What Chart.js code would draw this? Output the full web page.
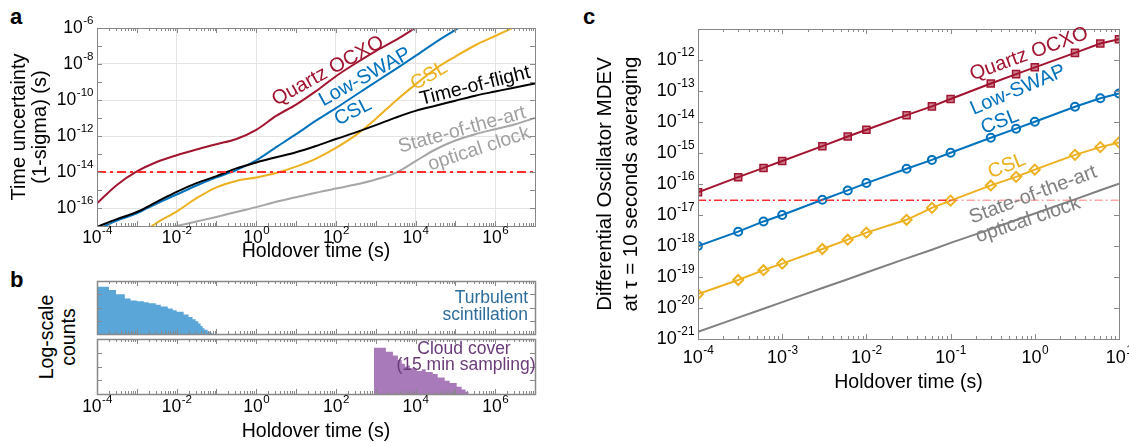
<!DOCTYPE html>
<html>
<head>
<meta charset="utf-8">
<script src="https://cdn.jsdelivr.net/npm/chart.js@4.4.1/dist/chart.umd.min.js"></script>
<style>
  body { margin: 0; background: #fff; width: 1129px; height: 443px; position: relative; overflow: hidden;
         font-family: "Liberation Sans", Arial, sans-serif; }
  canvas { position: absolute; }
  .panel { position: absolute; font-weight: bold; font-size: 22px; line-height: 22px; }
  .ylab { position: absolute; width: 170px; font-size: 19.5px; line-height: 22px; text-align: center; transform: rotate(-90deg); }
</style>
</head>
<body>
<div class="panel" style="left:10px;top:6px">a</div>
<div class="panel" style="left:10px;top:269px">b</div>
<div class="panel" style="left:583px;top:6px">c</div>
<div class="ylab" style="left:-28px;top:315px">Log-scale<br>counts</div>

<canvas id="pa" width="560" height="265" style="left:0;top:0"></canvas>
<canvas id="pbt" width="560" height="70" style="left:0;top:270px"></canvas>
<canvas id="pbb" width="560" height="113" style="left:0;top:330px"></canvas>
<canvas id="pc" width="559" height="443" style="left:570px;top:0"></canvas>

<script>
// ---- panel a : time uncertainty vs holdover time (half-decade grid) ----
var aHoldover = [1e-4, 3.16e-4, 1e-3, 3.16e-3, 1e-2, 3.16e-2, 0.1, 0.316, 1, 3.16, 10, 31.6, 100, 316,
                 1e3, 3.16e3, 1e4, 3.16e4, 1e5, 3.16e5, 1e6, 3.16e6, 1e7];
var aQuartz = [1.82e-16, 1.9e-15, 1.07e-14, 3.6e-14, 8.5e-14, 1.78e-13, 3.5e-13, 6.8e-13, 2.2e-12, 1.3e-11,
               5.6e-11, 3.1e-10, 2.1e-9, 1.1e-8, 5.2e-8, 2.1e-7, 1e-6, 4e-6, null, null, null, null, null];
var aLowSwap = [6.3e-18, 2e-17, 5e-17, 1.78e-16, 5.6e-16, 1.78e-15, 5e-15, 1.26e-14, 4.5e-14, 2.4e-13,
                1.26e-12, 7.1e-12, 3.5e-11, 1.9e-10, 1e-9, 5.2e-9, 2.8e-8, 1.58e-7, 7.9e-7, 4e-6, null, null, null];
var aTimeOfFlight = [9e-18, 2.4e-17, 6e-17, 2.2e-16, 7.9e-16, 2.4e-15, 5.9e-15, 1.58e-14, 3.4e-14, 6.6e-14,
                     1.26e-13, 2.8e-13, 6.8e-13, 1.58e-12, 4e-12, 1.05e-11, 2.5e-11, 4.8e-11, 9.1e-11, 1.74e-10,
                     2.95e-10, 5e-10, 8.3e-10];
var aCsl = [null, null, 2.5e-18, 1.5e-17, 6.3e-17, 3.5e-16, 1.41e-15, 3.2e-15, 5e-15, 8.9e-15, 2e-14, 5.6e-14,
            2.2e-13, 1.12e-12, 8.9e-12, 8.9e-11, 7.4e-10, 5.4e-9, 2.6e-8, 1.1e-7, 3.6e-7, 1.17e-6, null];
var aOptical = [null, null, null, 5.6e-18, 1e-17, 1.78e-17, 3.2e-17, 6e-17, 1.12e-16, 2.2e-16, 4e-16, 7.1e-16,
                1.2e-15, 2e-15, 3.8e-15, 8.9e-15, 4e-14, 1.78e-13, 5.6e-13, 1.26e-12, 2.4e-12, 4.5e-12, 1e-11];
var aThreshold = 1e-14;
var aXLabels = [-4, -2, 0, 2, 4, 6];
var aYLabels = [-6, -8, -10, -12, -14, -16];

// ---- panel b : histograms (bin edges in s, log-scale counts) ----
var turbEdges = [1e-4, 2e-4, 3e-4, 5e-4, 7e-4, 1e-3, 1.5e-3, 2e-3, 3e-3, 4e-3, 6e-3, 8e-3, 1e-2, 1.5e-2,
                 2e-2, 2.5e-2, 3e-2, 3.5e-2, 4e-2, 4.5e-2, 5e-2, 6e-2, 7e-2, 8e-2];
var turbCounts = [3630, 2090, 1000, 479, 331, 302, 251, 209, 158, 120, 83, 63, 48, 30, 19, 13, 9.1, 6.3, 4,
                  2.75, 2.1, 1.45, 1.2];
var cloudEdges = [900, 1800, 2700, 3600, 4500, 5400, 6300, 7200, 9000, 10800, 14400, 18000, 27000, 36000,
                  54000, 72000, 108000, 144000, 180000, 216000];
var cloudCounts = [2290, 1200, 631, 302, 158, 100, 120, 76, 63, 48, 63, 40, 28, 16, 9.1, 6.3, 3.3, 2.1, 1.45];

// ---- panel c : differential oscillator MDEV ----
var cTau = [1e-4, 3e-4, 6e-4, 1e-3, 3e-3, 6e-3, 1e-2, 3e-2, 6e-2, 0.1, 0.3, 0.6, 1, 3, 6, 10];
var cQuartz = [5.4e-17, 1.66e-16, 3.3e-16, 5.5e-16, 1.66e-15, 3.4e-15, 5.6e-15, 1.66e-14, 3.2e-14, 5.5e-14,
               1.74e-13, 3.5e-13, 5.8e-13, 1.7e-12, 3.4e-12, 4.7e-12];
var cLowSwap = [1e-18, 2.9e-18, 6.2e-18, 1e-17, 3.1e-17, 6.2e-17, 1.07e-16, 3.1e-16, 6e-16, 1.02e-15,
                3.1e-15, 6.1e-15, 1.02e-14, 3.1e-14, 5.8e-14, 8.3e-14];
var cCsl = [2.8e-20, 8e-20, 1.66e-19, 2.7e-19, 8e-19, 1.6e-18, 2.7e-18, 7e-18, 1.7e-17, 2.9e-17, 9e-17,
            1.7e-16, 2.9e-16, 8.7e-16, 1.55e-15, 2.2e-15];
var cOptical = [1.7e-21, 4.9e-21, 9.5e-21, 1.55e-20, 4.4e-20, 8.5e-20, 1.4e-19, 4e-19, 7.6e-19, 1.26e-18,
                3.5e-18, 6.9e-18, 1.12e-17, 3.2e-17, 6.3e-17, 1.02e-16];
var cThreshold = 3e-17;
var cXLabels = [-4, -3, -2, -1, 0, 1];
var cYLabels = [-12, -13, -14, -15, -16, -17, -18, -19, -20, -21];

var RED = '#a2142f', BLUE = '#0072bd', YELLOW = '#edb120';
var FONT = '"Liberation Sans", Arial, sans-serif';

Chart.defaults.font.family = FONT;
Chart.defaults.color = '#000';
Chart.defaults.plugins.legend.display = false;
Chart.defaults.plugins.tooltip.enabled = false;

// box, inward tick marks and 10^n labels
var framePlugin = {
    id: 'frame',
    afterDatasetsDraw: function (chart, args, o) {
        var ctx = chart.ctx, a = chart.chartArea, xs = chart.scales.x, ys = chart.scales.y;
        function marks(sc, minor) {
            var out = [];
            var e0 = Math.floor(Math.log10(sc.min)), e1 = Math.ceil(Math.log10(sc.max));
            for (var e = e0; e <= e1; e++) {
                for (var m = 1; m <= 9; m++) {
                    if (m > 1 && !minor) continue;
                    var v = m * Math.pow(10, e);
                    if (v < sc.min * 0.999 || v > sc.max * 1.001) continue;
                    out.push({ p: sc.getPixelForValue(v), major: m === 1 });
                }
            }
            return out;
        }
        ctx.save();
        ctx.strokeStyle = o.color;
        ctx.lineWidth = 1;
        ctx.beginPath();
        marks(xs, o.xMinor).forEach(function (t) {
            var L = t.major ? 5 : 3, px = Math.round(t.p) + 0.5;
            ctx.moveTo(px, a.bottom); ctx.lineTo(px, a.bottom - L);
            ctx.moveTo(px, a.top); ctx.lineTo(px, a.top + L);
        });
        marks(ys, o.yMinor).forEach(function (t) {
            var L = t.major ? 5 : 3, py = Math.round(t.p) + 0.5;
            ctx.moveTo(a.left, py); ctx.lineTo(a.left + L, py);
            ctx.moveTo(a.right, py); ctx.lineTo(a.right - L, py);
        });
        ctx.stroke();
        ctx.lineWidth = o.boxWidth || 1;
        ctx.strokeRect(Math.round(a.left) + 0.5, Math.round(a.top) + 0.5,
                       Math.round(a.right - a.left), Math.round(a.bottom - a.top));

        function pow(exp, x, y, align) {
            var fs = o.labelSize, ss = fs * 0.66, sup = String(exp);
            ctx.font = fs + 'px ' + FONT;
            var w1 = ctx.measureText('10').width;
            ctx.font = ss + 'px ' + FONT;
            var w2 = ctx.measureText(sup).width;
            var x0 = align === 'center' ? x - (w1 + w2) / 2 : x - (w1 + w2);
            ctx.fillStyle = '#000';
            ctx.textAlign = 'left';
            ctx.textBaseline = 'middle';
            ctx.font = fs + 'px ' + FONT;
            ctx.fillText('10', x0, y);
            ctx.font = ss + 'px ' + FONT;
            ctx.fillText(sup, x0 + w1 + 0.5, y - fs * 0.42);
        }
        (o.xLabels || []).forEach(function (e) {
            pow(e, xs.getPixelForValue(Math.pow(10, e)), a.bottom + o.xLabelOffset, 'center');
        });
        (o.yLabels || []).forEach(function (e) {
            pow(e, a.left - o.yLabelGap, ys.getPixelForValue(Math.pow(10, e)), 'right');
        });
        ctx.restore();
    }
};

// rotated curve labels
var notesPlugin = {
    id: 'notes',
    afterDraw: function (chart, args, o) {
        var ctx = chart.ctx;
        (o.items || []).forEach(function (n) {
            ctx.save();
            ctx.translate(n.x, n.y);
            ctx.rotate((n.rot || 0) * Math.PI / 180);
            ctx.font = n.size + 'px ' + FONT;
            ctx.fillStyle = n.color;
            ctx.textAlign = n.align || 'center';
            ctx.textBaseline = 'middle';
            ctx.fillText(n.text, 0, 0);
            ctx.restore();
        });
    }
};

function decadeTicks(s) {
    var t = [];
    for (var e = Math.round(Math.log10(s.min)); e <= Math.round(Math.log10(s.max)); e++) t.push({ value: Math.pow(10, e) });
    s.ticks = t;
}
function evenGrid(c) {
    return (c.tick && Math.round(Math.log10(c.tick.value)) % 2 === 0) ? '#e4e4e4' : 'rgba(0,0,0,0)';
}
function logScale(min, max, extra) {
    var s = { type: 'logarithmic', min: min, max: max, ticks: { display: false },
              border: { display: false }, grid: { display: false } };
    for (var k in extra) s[k] = extra[k];
    return s;
}
function line(label, data, color, width, more) {
    var d = { label: label, data: data, borderColor: color, backgroundColor: color, borderWidth: width,
              pointRadius: 0, fill: false, clip: 0 };
    for (var k in more) d[k] = more[k];
    return d;
}
function histPoints(edges, counts) {
    var pts = counts.map(function (c, i) { return { x: edges[i], y: c }; });
    pts.push({ x: edges[edges.length - 1], y: 1 });
    return pts;
}
var base = { responsive: false, animation: false, devicePixelRatio: 1 };
function opts(o) { var r = {}; for (var k in base) r[k] = base[k]; for (var j in o) r[j] = o[j]; return r; }

// ---------- panel a ----------
new Chart(document.getElementById('pa'), {
    type: 'line',
    data: {
        labels: aHoldover,
        datasets: [
            line('threshold', aHoldover.map(function () { return aThreshold; }), '#ff2a2a', 2, { borderDash: [9, 4, 3, 4] }),
            line('Time-of-flight', aTimeOfFlight, '#000', 2, { cubicInterpolationMode: 'monotone' }),
            line('Quartz OCXO', aQuartz, RED, 2, { cubicInterpolationMode: 'monotone' }),
            line('Low-SWAP CSL', aLowSwap, BLUE, 2, { cubicInterpolationMode: 'monotone' }),
            line('CSL', aCsl, YELLOW, 2, { cubicInterpolationMode: 'monotone' }),
            line('Optical clock', aOptical, '#a6a6a6', 2, { cubicInterpolationMode: 'monotone' })
        ]
    },
    options: opts({
        layout: { padding: { left: 0, right: 25, top: 28, bottom: 0 } },
        scales: {
            x: logScale(1e-4, 1e7, {
                afterBuildTicks: decadeTicks,
                grid: { display: true, drawTicks: false, color: evenGrid },
                title: { display: true, text: 'Holdover time (s)', font: { size: 19.5, lineHeight: 1.2 }, padding: { top: 0, bottom: 2 } },
                afterFit: function (s) { s.height = 39; }
            }),
            y: logScale(1e-17, 1e-6, {
                afterBuildTicks: decadeTicks,
                grid: { display: true, drawTicks: false, color: evenGrid },
                title: { display: true, text: ['Time uncertainty', '(1-sigma) (s)'], font: { size: 20, lineHeight: 1.05 }, padding: { top: 8.5, bottom: 0 } },
                afterFit: function (s) { s.width = 97; }
            })
        },
        plugins: {
            frame: { color: '#888', xMinor: true, yMinor: false, xLabels: aXLabels, yLabels: aYLabels,
                     labelSize: 17.5, xLabelOffset: 12, yLabelGap: 4 },
            notes: { items: [
                { text: 'Quartz OCXO', x: 328, y: 71, rot: -29, color: RED, size: 20 },
                { text: 'Low-SWAP', x: 365, y: 77, rot: -29, color: BLUE, size: 20 },
                { text: 'CSL', x: 353, y: 112, rot: -27, color: BLUE, size: 20 },
                { text: 'CSL', x: 429, y: 76, rot: -30, color: YELLOW, size: 20 },
                { text: 'Time-of-flight', x: 475, y: 86, rot: -14, color: '#000', size: 19.5 },
                { text: 'State-of-the-art', x: 462, y: 130, rot: -15.5, color: '#a0a0a0', size: 19.5 },
                { text: 'optical clock', x: 479, y: 149, rot: -18, color: '#a0a0a0', size: 19.5 }
            ] }
        }
    }),
    plugins: [framePlugin, notesPlugin]
});

// ---------- panel b (top) ----------
new Chart(document.getElementById('pbt'), {
    type: 'line',
    data: { datasets: [
        line('Turbulent scintillation', histPoints(turbEdges, turbCounts), '#5aa6d8', 0,
             { stepped: true, fill: 'start', backgroundColor: '#5aa6d8' })
    ] },
    options: opts({
        layout: { padding: { left: 97, right: 25, top: 11, bottom: 6 } },
        scales: {
            x: logScale(1e-4, 1e7, { display: false }),
            y: logScale(1, 1e4, { display: false })
        },
        plugins: {
            frame: { color: '#888', boxWidth: 1.5, xMinor: true, yMinor: false, labelSize: 17.5 },
            notes: { items: [
                { text: 'Turbulent', x: 528, y: 28, align: 'right', color: '#2c6d9c', size: 17.5 },
                { text: 'scintillation', x: 528, y: 45, align: 'right', color: '#2c6d9c', size: 17.5 }
            ] }
        }
    }),
    plugins: [framePlugin, notesPlugin]
});

// ---------- panel b (bottom) ----------
new Chart(document.getElementById('pbb'), {
    type: 'line',
    data: { datasets: [
        line('Cloud cover', histPoints(cloudEdges, cloudCounts), '#a97ab9', 0,
             { stepped: true, fill: 'start', backgroundColor: '#a97ab9' })
    ] },
    options: opts({
        layout: { padding: { left: 97, right: 25, top: 9, bottom: 0 } },
        scales: {
            x: logScale(1e-4, 1e7, {
                title: { display: true, text: 'Holdover time (s)', font: { size: 19.5, lineHeight: 1.2 }, padding: { top: 0, bottom: 0 } },
                afterFit: function (s) { s.height = 49; }
            }),
            y: logScale(1, 1e4, { display: false })
        },
        plugins: {
            frame: { color: '#888', boxWidth: 1.5, xMinor: true, yMinor: false, xLabels: aXLabels,
                     labelSize: 17.5, xLabelOffset: 13.5, yLabelGap: 4 },
            notes: { items: [
                { text: 'Cloud cover', x: 464, y: 19, color: '#6a3b78', size: 17.5 },
                { text: '(15 min sampling)', x: 466, y: 35, color: '#6a3b78', size: 17.5 }
            ] }
        }
    }),
    plugins: [framePlugin, notesPlugin]
});

// ---------- panel c ----------
new Chart(document.getElementById('pc'), {
    type: 'line',
    data: {
        labels: cTau,
        datasets: [
            line('threshold', [{ x: cTau[0], y: cThreshold }, { x: 0.1, y: cThreshold }, { x: cTau[cTau.length - 1], y: cThreshold }],
                 '#ff3030', 1.5, { borderDash: [8, 3, 2, 3],
                                   segment: { borderColor: function (c) { return c.p0.parsed.x >= 0.1 ? 'rgba(255,60,60,0.45)' : '#ff3030'; } } }),
            line('Quartz OCXO', cQuartz, RED, 2, { pointRadius: 5, pointStyle: 'rect', pointBorderWidth: 1.5,
                                                  pointBackgroundColor: 'rgba(162,20,47,0.55)', pointBorderColor: RED }),
            line('Low-SWAP CSL', cLowSwap, BLUE, 2, { pointRadius: 4, pointStyle: 'circle', pointBorderWidth: 2,
                                                     pointBackgroundColor: 'rgba(0,0,0,0)', pointBorderColor: BLUE }),
            line('CSL', cCsl, YELLOW, 2, { pointRadius: 5, pointStyle: 'rectRot', pointBorderWidth: 2,
                                          pointBackgroundColor: 'rgba(0,0,0,0)', pointBorderColor: YELLOW }),
            line('Optical clock', cOptical, '#808080', 2, {})
        ]
    },
    options: opts({
        layout: { padding: { left: 0, right: 10, top: 29, bottom: 44 } },
        scales: {
            x: logScale(1e-4, 10, {
                title: { display: true, text: 'Holdover time (s)', font: { size: 19.5, lineHeight: 1.2 }, padding: { top: 0, bottom: 4.3 } },
                afterFit: function (s) { s.height = 60; }
            }),
            y: logScale(1e-21, 1e-11, {
                title: { display: true, text: ['Differential Oscillator MDEV', 'at \u03C4 = 10 seconds averaging'],
                         font: { size: 20.5, lineHeight: 1.27 }, padding: { top: 22, bottom: 0 } },
                afterFit: function (s) { s.width = 128; }
            })
        },
        plugins: {
            frame: { color: '#888', xMinor: true, yMinor: false, xLabels: cXLabels, yLabels: cYLabels,
                     labelSize: 18, xLabelOffset: 19, yLabelGap: 4 },
            notes: { items: [
                { text: 'Quartz OCXO', x: 459, y: 54, rot: -20, color: RED, size: 20 },
                { text: 'Low-SWAP', x: 448, y: 90, rot: -23, color: BLUE, size: 20 },
                { text: 'CSL', x: 430, y: 122, rot: -21, color: BLUE, size: 20 },
                { text: 'CSL', x: 437, y: 166, rot: -22, color: YELLOW, size: 20 },
                { text: 'State-of-the-art', x: 463, y: 195, rot: -20.5, color: '#808080', size: 20 },
                { text: 'optical clock', x: 458, y: 220, rot: -18.5, color: '#808080', size: 20 }
            ] }
        }
    }),
    plugins: [framePlugin, notesPlugin]
});
</script>
</body>
</html>
